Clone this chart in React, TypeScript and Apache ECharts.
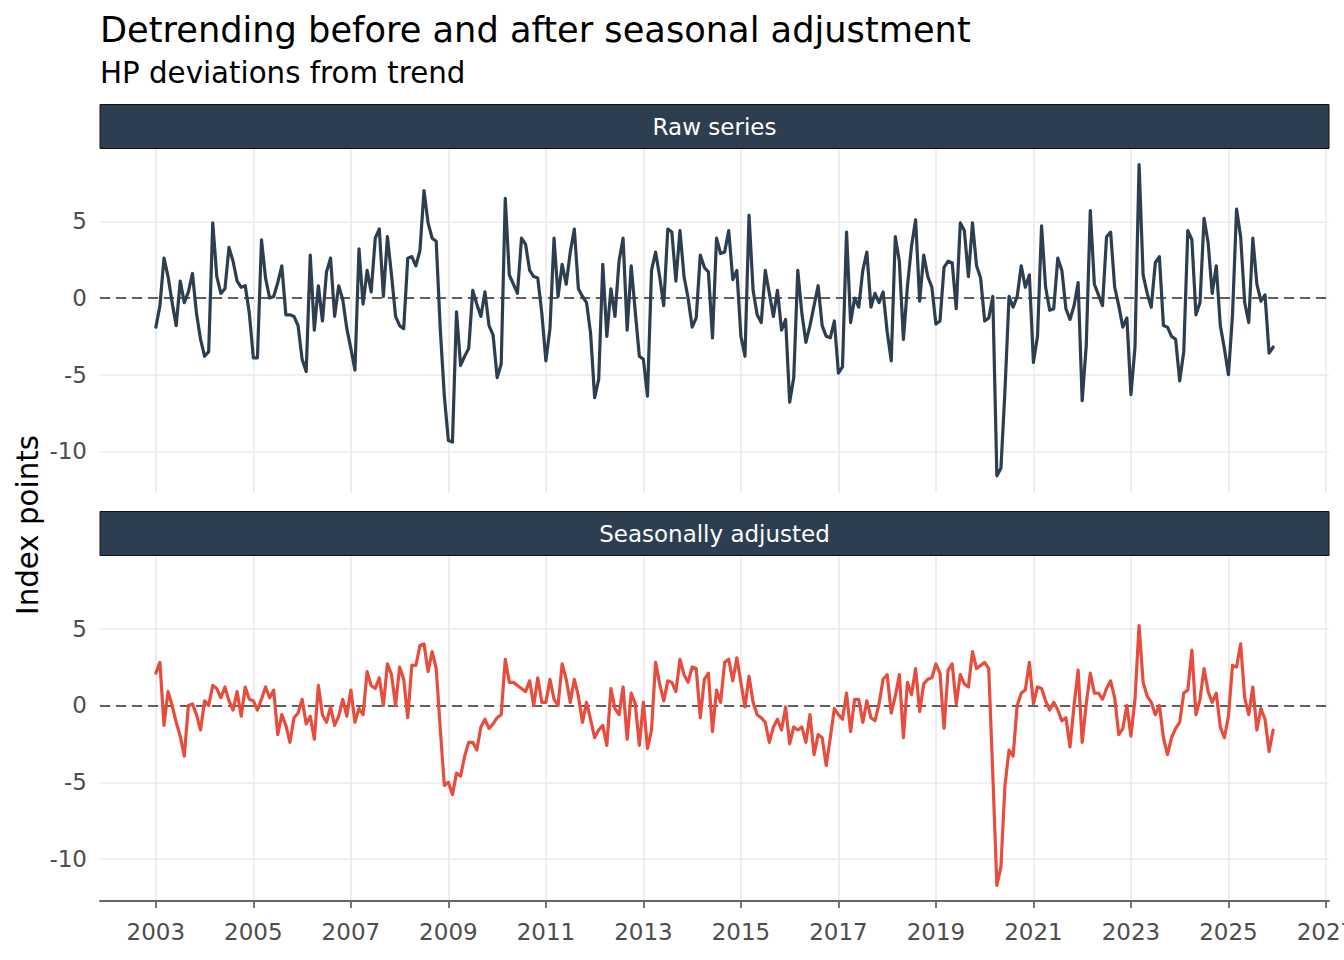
import React, { useEffect, useRef } from "react";
import * as echarts from "echarts";

const START_YEAR = 2003;

// Raw series: HP deviations from trend, monthly Jan 2003 – Dec 2025
const rawValues: number[] = [
  -1.9, -0.5, 2.6, 1.4, -0.3, -1.8, 1.1, -0.3, 0.4, 1.6, -1.0, -2.7,
  -3.8, -3.5, 4.9, 1.4, 0.3, 0.6, 3.3, 2.4, 1.1, 0.7, 0.8, -1.0,
  -3.9, -3.9, 3.8, 1.3, 0.0, 0.1, 1.0, 2.1, -1.1, -1.1, -1.2, -1.8,
  -4.0, -4.8, 2.8, -2.1, 0.8, -1.5, 1.7, 2.6, -1.2, 0.8, -0.1, -2.0,
  -3.3, -4.7, 3.2, -0.4, 1.8, 0.4, 3.9, 4.5, 0.1, 4.0, 1.5, -1.2,
  -1.8, -2.0, 2.6, 2.7, 2.1, 3.1, 7.0, 4.9, 3.9, 3.7, -2.0, -6.4,
  -9.3, -9.4, -0.9, -4.4, -3.8, -3.3, 0.5, -0.4, -1.2, 0.4, -1.8, -2.4,
  -5.2, -4.3, 6.5, 1.5, 0.9, 0.3, 3.9, 3.5, 1.8, 1.4, 1.3, -1.0,
  -4.1, -2.0, 3.9, 0.1, 2.2, 0.9, 3.0, 4.5, 0.6, 0.1, -0.3, -2.3,
  -6.5, -5.3, 2.2, -2.5, 0.6, -1.2, 2.4, 3.9, -2.1, 2.1, -0.9, -3.8,
  -4.0, -6.4, 1.8, 3.0, 1.4, -0.5, 4.5, 4.3, 1.1, 4.4, 1.4, 0.0,
  -1.9, -1.3, 2.8, 2.0, 1.7, -2.6, 3.9, 2.9, 3.0, 4.4, 1.2, 1.8,
  -2.5, -3.8, 5.4, 0.5, -1.1, -1.6, 1.8, 0.3, -1.2, 0.5, -2.1, -1.4,
  -6.8, -5.2, 1.8, -1.0, -2.9, -1.8, -0.5, 0.8, -1.8, -2.5, -2.6, -1.5,
  -4.9, -4.5, 4.3, -1.6, 0.0, -0.6, 1.8, 3.0, -0.6, 0.3, -0.3, 0.4,
  -2.2, -4.1, 4.0, 2.4, -2.7, 0.8, 3.4, 5.1, -0.2, 2.8, 1.4, 0.7,
  -1.7, -1.5, 2.0, 2.4, 2.3, -0.7, 4.9, 4.4, 1.4, 4.9, 2.1, 1.3,
  -1.5, -1.3, 0.1, -11.6, -11.1, -6.0, 0.1, -0.6, 0.1, 2.1, 0.7, 1.5,
  -4.2, -2.5, 4.7, 0.7, -0.8, -0.7, 2.6, 1.8, -0.7, -1.4, -0.5, 1.0,
  -6.7, -3.1, 5.7, 0.9, 0.2, -0.5, 4.0, 4.3, 0.7, -0.5, -1.9, -1.3,
  -6.3, -3.2, 8.7, 1.5, 0.3, -0.6, 2.3, 2.7, -1.8, -1.9, -2.5, -2.7,
  -5.4, -3.5, 4.4, 3.8, -1.1, -0.3, 5.2, 3.6, 0.3, 2.1, -1.8, -3.3,
  -5.0, -1.1, 5.8, 4.0, -0.3, -1.6, 3.9, 0.9, -0.2, 0.2, -3.6, -3.2,
];

// Seasonally adjusted series: HP deviations from trend
const adjValues: number[] = [
  2.1, 2.8, -1.3, 0.9, 0.0, -1.1, -2.0, -3.3, 0.0, 0.1, -0.6, -1.6,
  0.3, 0.0, 1.3, 1.1, 0.5, 1.2, 0.3, -0.3, 0.9, -0.7, 1.2, 0.4,
  0.3, -0.3, 0.4, 1.2, 0.5, 1.0, -1.9, -0.6, -1.3, -2.4, -0.8, -0.5,
  0.4, -1.2, -0.7, -2.2, 1.3, -0.6, -1.1, -0.1, -1.3, -0.7, 0.4, -0.7,
  1.0, -1.1, -0.2, -0.6, 2.2, 1.3, 1.1, 1.8, 0.0, 2.7, 2.0, 0.0,
  2.5, 1.7, -0.8, 2.6, 2.6, 3.9, 4.0, 2.2, 3.5, 2.4, -1.5, -5.2,
  -5.0, -5.8, -4.4, -4.6, -3.3, -2.4, -2.4, -2.9, -1.4, -0.9, -1.5, -1.2,
  -0.8, -0.6, 3.0, 1.5, 1.5, 1.3, 1.1, 0.9, 1.6, 0.0, 1.8, 0.2,
  0.2, 1.7, 0.4, 0.0, 2.7, 1.7, 0.2, 1.7, 0.6, -1.1, 0.2, -0.9,
  -2.1, -1.6, -1.3, -2.6, 1.1, -0.2, -0.6, 1.2, -2.2, 0.8, 0.1, -2.6,
  0.2, -2.8, -1.6, 2.8, 1.4, 0.3, 1.6, 1.5, 0.9, 3.0, 2.0, 1.5,
  2.5, 2.4, -0.8, 1.7, 2.1, -1.7, 1.0, 0.2, 2.8, 3.0, 1.6, 3.1,
  1.5, -0.1, 1.9, 0.2, -0.6, -0.8, -1.1, -2.4, -1.4, -0.9, -1.6, -0.1,
  -2.5, -1.4, -1.6, -1.4, -2.4, -0.6, -3.2, -1.9, -2.1, -3.9, -2.1, -0.2,
  -0.6, -0.9, 0.8, -1.7, 0.4, 0.4, -1.1, 0.3, -0.8, -1.0, 0.1, 1.7,
  2.0, -0.5, 0.6, 2.0, -2.1, 1.5, 0.7, 2.4, -0.4, 1.4, 1.7, 1.8,
  2.7, 2.1, -1.5, 2.3, 2.7, 0.1, 2.0, 1.4, 1.2, 3.5, 2.4, 2.6,
  2.8, 2.4, -4.5, -11.7, -10.5, -5.2, -2.9, -3.3, 0.0, 0.8, 1.0, 2.8,
  0.1, 1.2, 1.1, 0.3, -0.3, 0.2, -0.3, -1.0, -0.8, -2.7, 0.0, 2.3,
  -2.4, 0.1, 2.1, 0.8, 0.8, 0.4, 1.1, 1.6, 0.5, -1.9, -1.5, 0.0,
  -2.0, 0.4, 5.2, 1.5, 0.6, 0.2, -0.6, 0.0, -2.1, -3.2, -2.1, -1.5,
  -1.1, 0.8, 1.0, 3.6, -0.6, 0.4, 2.4, 0.9, 0.2, 0.8, -1.4, -2.1,
  -0.7, 2.6, 2.5, 4.0, 0.5, -0.6, 1.2, -1.6, -0.2, -0.9, -3.0, -1.6,
];

const xTickYears: number[] = [2003, 2005, 2007, 2009, 2011, 2013, 2015, 2017, 2019, 2021, 2023, 2025, 2027];
const yTickValues: number[] = [-10, -5, 0, 5];
const panelTitles: string[] = ["Raw series", "Seasonally adjusted"];
const seriesColors: string[] = ["#2c3e50", "#e74c3c"];

const FONT = '"DejaVu Sans", "Liberation Sans", sans-serif';

export default function App() {
  const ref = useRef<HTMLDivElement>(null);

  useEffect(() => {
    if (!ref.current) return;
    const chart = echarts.init(ref.current, null, { renderer: "svg" });

    const toPairs = (vals: number[]) => vals.map((v, i) => [START_YEAR + i / 12, v]);
    const all = rawValues.concat(adjValues);
    const lo = Math.min(...all);
    const hi = Math.max(...all);
    const yPad = (hi - lo) * 0.05;
    const xLast = START_YEAR + (rawValues.length - 1) / 12;
    const xPad = (xLast - START_YEAR) * 0.05;

    const grids = [
      { left: 100, top: 149, width: 1229, height: 344, outerBoundsMode: "none" },
      { left: 100, top: 556, width: 1229, height: 345, outerBoundsMode: "none" },
    ];

    const gridLine = { show: true, lineStyle: { color: "#ebebeb", width: 1.7, type: "solid" } };

    const xAxes = [0, 1].map((gi) => ({
      type: "value",
      gridIndex: gi,
      min: START_YEAR - xPad,
      max: xLast + xPad,
      splitLine: gridLine,
      axisLine: gi === 1
        ? { show: true, onZero: false, lineStyle: { color: "#666666", width: 1.8 } }
        : { show: false },
      axisTick: {
        show: gi === 1,
        customValues: xTickYears,
        length: 7,
        lineStyle: { color: "#666666", width: 1.8 },
      },
      axisLabel: {
        show: gi === 1,
        customValues: xTickYears,
        formatter: (v: number) => String(Math.round(v)),
        color: "#4d4d4d",
        fontSize: 23,
        fontFamily: FONT,
        margin: 19,
        showMinLabel: true,
        showMaxLabel: true,
        hideOverlap: false,
      },
    }));

    const yAxes = [0, 1].map((gi) => ({
      type: "value",
      gridIndex: gi,
      min: lo - yPad,
      max: hi + yPad,
      splitLine: gridLine,
      axisLine: { show: false },
      axisTick: { show: false, customValues: yTickValues },
      axisLabel: {
        customValues: yTickValues,
        formatter: (v: number) => String(v),
        color: "#4d4d4d",
        fontSize: 23,
        fontFamily: FONT,
        margin: 13,
        showMinLabel: true,
        showMaxLabel: true,
      },
    }));

    const series = [rawValues, adjValues].map((vals, k) => ({
      type: "line",
      xAxisIndex: k,
      yAxisIndex: k,
      data: toPairs(vals),
      showSymbol: false,
      symbol: "none",
      z: 3,
      lineStyle: { color: seriesColors[k], width: 3.2, join: "round", cap: "round" },
      itemStyle: { color: seriesColors[k] },
      markLine: {
        silent: true,
        symbol: ["none", "none"],
        z: 1,
        label: { show: false },
        lineStyle: { type: [10, 6], color: "#5f5f5f", width: 2 },
        data: [{ yAxis: 0 }],
      },
    }));

    const strips = [
      { y: 104.5, h: 44 },
      { y: 511.5, h: 44 },
    ];

    const graphic: any[] = [];
    strips.forEach((s, k) => {
      graphic.push({
        type: "rect",
        z: 10,
        shape: { x: 100, y: s.y, width: 1229, height: s.h },
        style: { fill: "#2c3e50", stroke: "#111111", lineWidth: 1 },
      });
      graphic.push({
        type: "text",
        z: 11,
        x: 714.5,
        y: s.y + s.h / 2,
        style: {
          text: panelTitles[k],
          fill: "#ffffff",
          fontSize: 23,
          fontFamily: FONT,
          align: "center",
          verticalAlign: "middle",
        },
      });
    });
    graphic.push({
      type: "text",
      x: 100,
      y: 29.5,
      style: {
        text: "Detrending before and after seasonal adjustment",
        fill: "#000000",
        fontSize: 35.2,
        fontFamily: FONT,
        align: "left",
        verticalAlign: "middle",
      },
    });
    graphic.push({
      type: "text",
      x: 100,
      y: 73,
      style: {
        text: "HP deviations from trend",
        fill: "#000000",
        fontSize: 29.3,
        fontFamily: FONT,
        align: "left",
        verticalAlign: "middle",
      },
    });
    graphic.push({
      type: "text",
      x: 28,
      y: 525,
      rotation: Math.PI / 2,
      style: {
        text: "Index points",
        fill: "#000000",
        fontSize: 29.3,
        fontFamily: FONT,
        align: "center",
        verticalAlign: "middle",
      },
    });

    chart.setOption({
      animation: false,
      backgroundColor: "#ffffff",
      textStyle: { fontFamily: FONT },
      grid: grids,
      xAxis: xAxes,
      yAxis: yAxes,
      series,
      graphic,
    });

    return () => chart.dispose();
  }, []);

  return (
    <div
      ref={ref}
      style={{ position: "absolute", left: 0, top: 0, width: 1344, height: 960 }}
    />
  );
}
